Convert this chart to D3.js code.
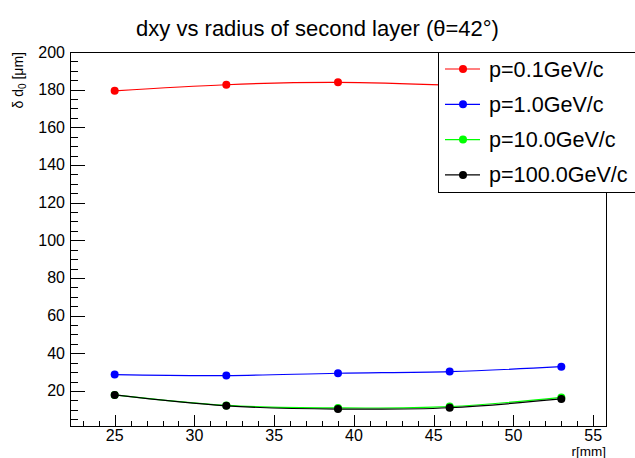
<!DOCTYPE html>
<html>
<head>
<meta charset="utf-8">
<script src="https://cdn.jsdelivr.net/npm/d3@7"></script>
<style>
  body { margin: 0; background: #fff; }
  text { font-family: "Liberation Sans", Arial, Helvetica, sans-serif; }
</style>
</head>
<body>
<div class="content"></div>
<script>
// radius of second layer [mm]
var radius = [25, 32, 39, 46, 53];

// delta d0 [um] per momentum
var momenta = ["p=0.1GeV/c", "p=1.0GeV/c", "p=10.0GeV/c", "p=100.0GeV/c"];
var colors = ["#ff0000", "#0000ff", "#00ff00", "#000000"];
var dxy_p01 = [179.4, 182.6, 183.9, 182.4, 180.2];
var dxy_p1 = [28.7, 28.2, 29.4, 30.3, 32.9];
var dxy_p10 = [17.9, 12.3, 11.0, 11.7, 16.6];
var dxy_p100 = [17.9, 12.1, 10.4, 11.1, 15.8];
var series = [dxy_p01, dxy_p1, dxy_p10, dxy_p100];

var xMajor = [25, 30, 35, 40, 45, 50, 55];
var yMajor = [20, 40, 60, 80, 100, 120, 140, 160, 180, 200];

var W = 635, H = 458;
var padL = 70, padR = 606, padT = 52, padB = 426;

var svg = d3.select(".content").append("svg")
   .attr("width", W)
   .attr("height", H);

var x = d3.scaleLinear().domain([22.2, 55.8]).range([padL, padR]);
var y = d3.scaleLinear().domain([1.4, 200]).range([padB, padT]);

// title
svg.append("text")
   .attr("x", W / 2)
   .attr("y", 36)
   .attr("text-anchor", "middle")
   .attr("font-size", "22px")
   .text("dxy vs radius of second layer (\u03b8=42\u00b0)");

// frame
svg.append("rect")
   .attr("x", padL + 0.5)
   .attr("y", padT + 0.5)
   .attr("width", padR - padL)
   .attr("height", padB - padT)
   .attr("fill", "none")
   .attr("stroke", "#000")
   .attr("stroke-width", 1);

// x ticks, pointing into the frame
var xMinor = d3.range(23, 56, 1).filter(function(v){ return xMajor.indexOf(v) < 0; });
svg.selectAll(".xminor")
   .data(xMinor)
   .enter().append("line")
   .attr("x1", function(d){ return Math.round(x(d)) + 0.5; })
   .attr("x2", function(d){ return Math.round(x(d)) + 0.5; })
   .attr("y1", padB)
   .attr("y2", padB - 5)
   .attr("stroke", "#000");

svg.selectAll(".xmajor")
   .data(xMajor)
   .enter().append("line")
   .attr("x1", function(d){ return Math.round(x(d)) + 0.5; })
   .attr("x2", function(d){ return Math.round(x(d)) + 0.5; })
   .attr("y1", padB)
   .attr("y2", padB - 11)
   .attr("stroke", "#000");

svg.selectAll(".xlabel")
   .data(xMajor)
   .enter().append("text")
   .attr("x", function(d){ return x(d); })
   .attr("y", 441)
   .attr("text-anchor", "middle")
   .attr("font-size", "16px")
   .text(function(d){ return d; });

// y ticks
var yMinor = d3.range(5, 201, 5).filter(function(v){ return yMajor.indexOf(v) < 0; });
svg.selectAll(".yminor")
   .data(yMinor)
   .enter().append("line")
   .attr("x1", padL)
   .attr("x2", padL + 8)
   .attr("y1", function(d){ return Math.round(y(d)) + 0.5; })
   .attr("y2", function(d){ return Math.round(y(d)) + 0.5; })
   .attr("stroke", "#000");

svg.selectAll(".ymajor")
   .data(yMajor)
   .enter().append("line")
   .attr("x1", padL)
   .attr("x2", padL + 15)
   .attr("y1", function(d){ return Math.round(y(d)) + 0.5; })
   .attr("y2", function(d){ return Math.round(y(d)) + 0.5; })
   .attr("stroke", "#000");

svg.selectAll(".ylabel")
   .data(yMajor)
   .enter().append("text")
   .attr("x", 65)
   .attr("y", function(d){ return y(d) + 5.5; })
   .attr("text-anchor", "end")
   .attr("font-size", "16px")
   .text(function(d){ return d; });

// axis titles
svg.append("text")
   .attr("x", padR)
   .attr("y", 456)
   .attr("text-anchor", "end")
   .attr("font-size", "13.5px")
   .text("r[mm]");

var ytitle = svg.append("text")
   .attr("transform", "translate(23," + padT + ") rotate(-90)")
   .attr("text-anchor", "end")
   .attr("font-size", "14px");
ytitle.append("tspan").text("\u03b4 d");
ytitle.append("tspan").attr("font-size", "10px").attr("dy", 3).text("0");
ytitle.append("tspan").attr("dy", -3).text(" [\u03bcm]");

// curves and markers
var line = d3.line()
   .x(function(d, i){ return x(radius[i]); })
   .y(function(d){ return y(d); })
   .curve(d3.curveNatural);

series.forEach(function(values, k) {
   svg.append("path")
      .attr("d", line(values))
      .attr("fill", "none")
      .attr("stroke", colors[k])
      .attr("stroke-width", 1.2);

   svg.selectAll(".pt" + k)
      .data(values)
      .enter().append("circle")
      .attr("cx", function(d, i){ return x(radius[i]); })
      .attr("cy", function(d){ return y(d); })
      .attr("r", 4)
      .attr("fill", colors[k]);
});

// legend
var lg = svg.append("g");
lg.append("rect")
   .attr("x", 438.5)
   .attr("y", padT + 0.5)
   .attr("width", 210)
   .attr("height", 140)
   .attr("fill", "#fff")
   .attr("stroke", "#000");

momenta.forEach(function(name, k) {
   var cy = 69 + k * 35.3;
   lg.append("line")
      .attr("x1", 445).attr("x2", 480)
      .attr("y1", cy).attr("y2", cy)
      .attr("stroke", colors[k])
      .attr("stroke-width", 1.2);
   lg.append("circle")
      .attr("cx", 463).attr("cy", cy)
      .attr("r", 4)
      .attr("fill", colors[k]);
   lg.append("text")
      .attr("x", 489)
      .attr("y", cy + 7.5)
      .attr("font-size", "21.6px")
      .text(name);
});
</script>
</body>
</html>
